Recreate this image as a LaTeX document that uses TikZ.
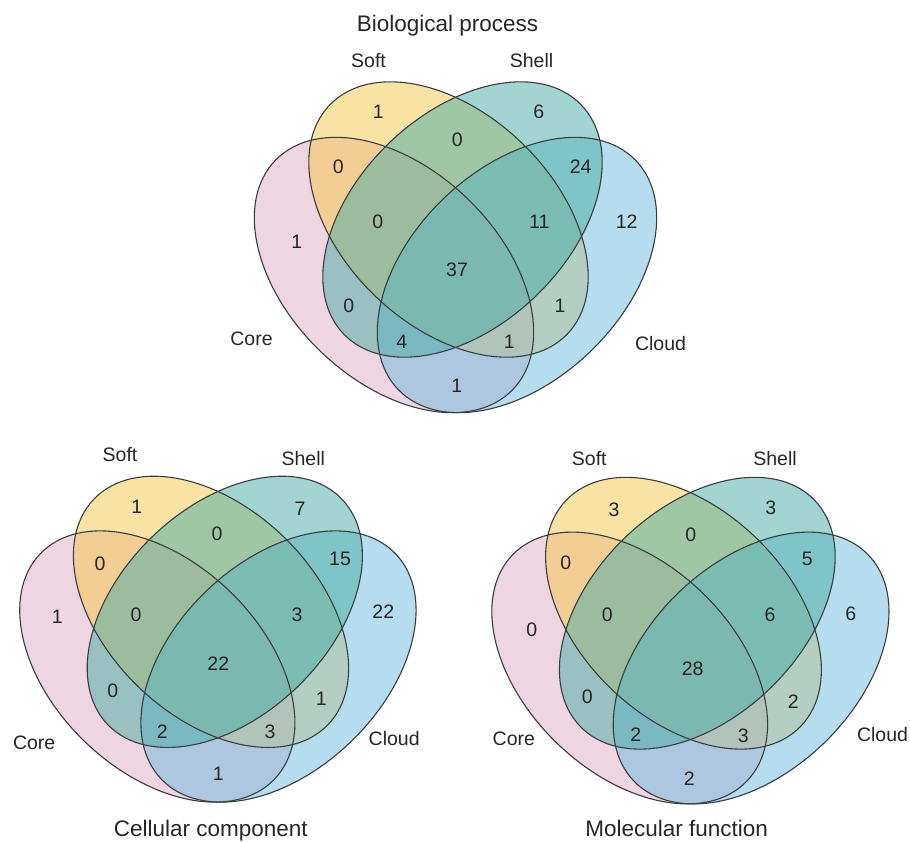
\documentclass[tikz,border=0pt]{standalone}
\usepackage{fontspec}
\setmainfont{Liberation Sans}
\definecolor{corecol}{RGB}{225,171,197}
\definecolor{softcol}{RGB}{245,201,75}
\definecolor{shellcol}{RGB}{71,173,165}
\definecolor{cloudcol}{RGB}{111,187,225}
\definecolor{edgecol}{RGB}{55,62,62}
\tikzset{
  vfill/.style={fill=#1, fill opacity=0.5},
  vedge/.style={draw=edgecol, line width=1.1pt},
  num/.style={font=\fontsize{19.5}{20}\selectfont, inner sep=0pt, text=black!85},
  setlabel/.style={font=\fontsize{19.5}{20}\selectfont, inner sep=0pt, text=black!85},
  vtitle/.style={font=\fontsize{22.5}{24}\selectfont, inner sep=0pt, anchor=base, text=black!85}
}
\newcommand{\quadvenn}[3]{%
  \begin{scope}[shift={(#1,#2)}, scale=#3]
    \fill[vfill=corecol, rotate around={-44:(-61.5,0)}] (-61.5,0) ellipse[x radius=165pt, y radius=106pt];
    \fill[vfill=softcol, rotate around={-44:(-7,-55.5)}] (-7,-55.5) ellipse[x radius=165pt, y radius=106pt];
    \fill[vfill=cloudcol, rotate around={44:(61.5,0)}] (61.5,0) ellipse[x radius=165pt, y radius=106pt];
    \fill[vfill=shellcol, rotate around={44:(7,-55.5)}] (7,-55.5) ellipse[x radius=165pt, y radius=106pt];
    \draw[vedge, rotate around={-44:(-61.5,0)}] (-61.5,0) ellipse[x radius=165pt, y radius=106pt];
    \draw[vedge, rotate around={44:(61.5,0)}] (61.5,0) ellipse[x radius=165pt, y radius=106pt];
    \draw[vedge, rotate around={-44:(-7,-55.5)}] (-7,-55.5) ellipse[x radius=165pt, y radius=106pt];
    \draw[vedge, rotate around={44:(7,-55.5)}] (7,-55.5) ellipse[x radius=165pt, y radius=106pt];
  \end{scope}}
\begin{document}
\begin{tikzpicture}[x=1pt, y=-1pt]
\useasboundingbox[fill=white] (0,0) rectangle (910,841);
% ---------- Biological process ----------
\quadvenn{455.5}{275}{1}
\node[vtitle] (bp-title) at (447.5,31.5) {Biological process};
\node[setlabel] (bp-soft) at (368.5,60.7) {Soft};
\node[setlabel] (bp-shell) at (531.5,60.7) {Shell};
\node[setlabel] (bp-core) at (251.5,338.3) {Core};
\node[setlabel] (bp-cloud) at (660.5,343.3) {Cloud};
\node[num] (bp-n1) at (378.3,111.7) {1};
\node[num] (bp-n2) at (538.8,111.7) {6};
\node[num] (bp-n3) at (457.3,139.3) {0};
\node[num] (bp-n4) at (338.3,166.5) {0};
\node[num] (bp-n5) at (580.7,167) {24};
\node[num] (bp-n6) at (296.7,242.2) {1};
\node[num] (bp-n7) at (626.7,221.7) {12};
\node[num] (bp-n8) at (377.7,221.7) {0};
\node[num] (bp-n9) at (539.3,221.7) {11};
\node[num] (bp-n10) at (457,270) {37};
\node[num] (bp-n11) at (348.7,306) {0};
\node[num] (bp-n12) at (560,306) {1};
\node[num] (bp-n13) at (401.7,341.7) {4};
\node[num] (bp-n14) at (509.2,341.7) {1};
\node[num] (bp-n15) at (456.7,385.5) {1};
% ---------- Cellular component ----------
\quadvenn{217.9}{666.5}{0.985}
\node[vtitle] (cc-title) at (210.8,836.5) {Cellular component};
\node[setlabel] (cc-soft) at (120,455) {Soft};
\node[setlabel] (cc-shell) at (303.3,458.3) {Shell};
\node[setlabel] (cc-core) at (34.2,742.8) {Core};
\node[setlabel] (cc-cloud) at (394.2,738.3) {Cloud};
\node[num] (cc-n1) at (136.7,506.3) {1};
\node[num] (cc-n2) at (300,508.3) {7};
\node[num] (cc-n3) at (217,533.3) {0};
\node[num] (cc-n4) at (100,563.3) {0};
\node[num] (cc-n5) at (340,559) {15};
\node[num] (cc-n6) at (57.3,616.7) {1};
\node[num] (cc-n7) at (383.3,612) {22};
\node[num] (cc-n8) at (136,615) {0};
\node[num] (cc-n9) at (297,615) {3};
\node[num] (cc-n10) at (218.3,663.3) {22};
\node[num] (cc-n11) at (112.7,690.5) {0};
\node[num] (cc-n12) at (321.2,698.8) {1};
\node[num] (cc-n13) at (162.3,731.3) {2};
\node[num] (cc-n14) at (270,732.2) {3};
\node[num] (cc-n15) at (218.3,773.3) {1};
% ---------- Molecular function ----------
\quadvenn{690.4}{668}{0.987}
\node[vtitle] (mf-title) at (676.7,836.5) {Molecular function};
\node[setlabel] (mf-soft) at (589.3,458.3) {Soft};
\node[setlabel] (mf-shell) at (775,458.3) {Shell};
\node[setlabel] (mf-core) at (513.8,738.3) {Core};
\node[setlabel] (mf-cloud) at (882.5,735) {Cloud};
\node[num] (mf-n1) at (614,510) {3};
\node[num] (mf-n2) at (770.7,507.3) {3};
\node[num] (mf-n3) at (690.7,535) {0};
\node[num] (mf-n4) at (565.7,562.7) {0};
\node[num] (mf-n5) at (807.3,559.3) {5};
\node[num] (mf-n6) at (531.7,630) {0};
\node[num] (mf-n7) at (850.7,613.3) {6};
\node[num] (mf-n8) at (607.3,615) {0};
\node[num] (mf-n9) at (770,615) {6};
\node[num] (mf-n10) at (692.7,668.5) {28};
\node[num] (mf-n11) at (587.3,696.7) {0};
\node[num] (mf-n12) at (793.3,701.7) {2};
\node[num] (mf-n13) at (635.7,735) {2};
\node[num] (mf-n14) at (743.3,736) {3};
\node[num] (mf-n15) at (689.3,778.3) {2};
\end{tikzpicture}
\end{document}
